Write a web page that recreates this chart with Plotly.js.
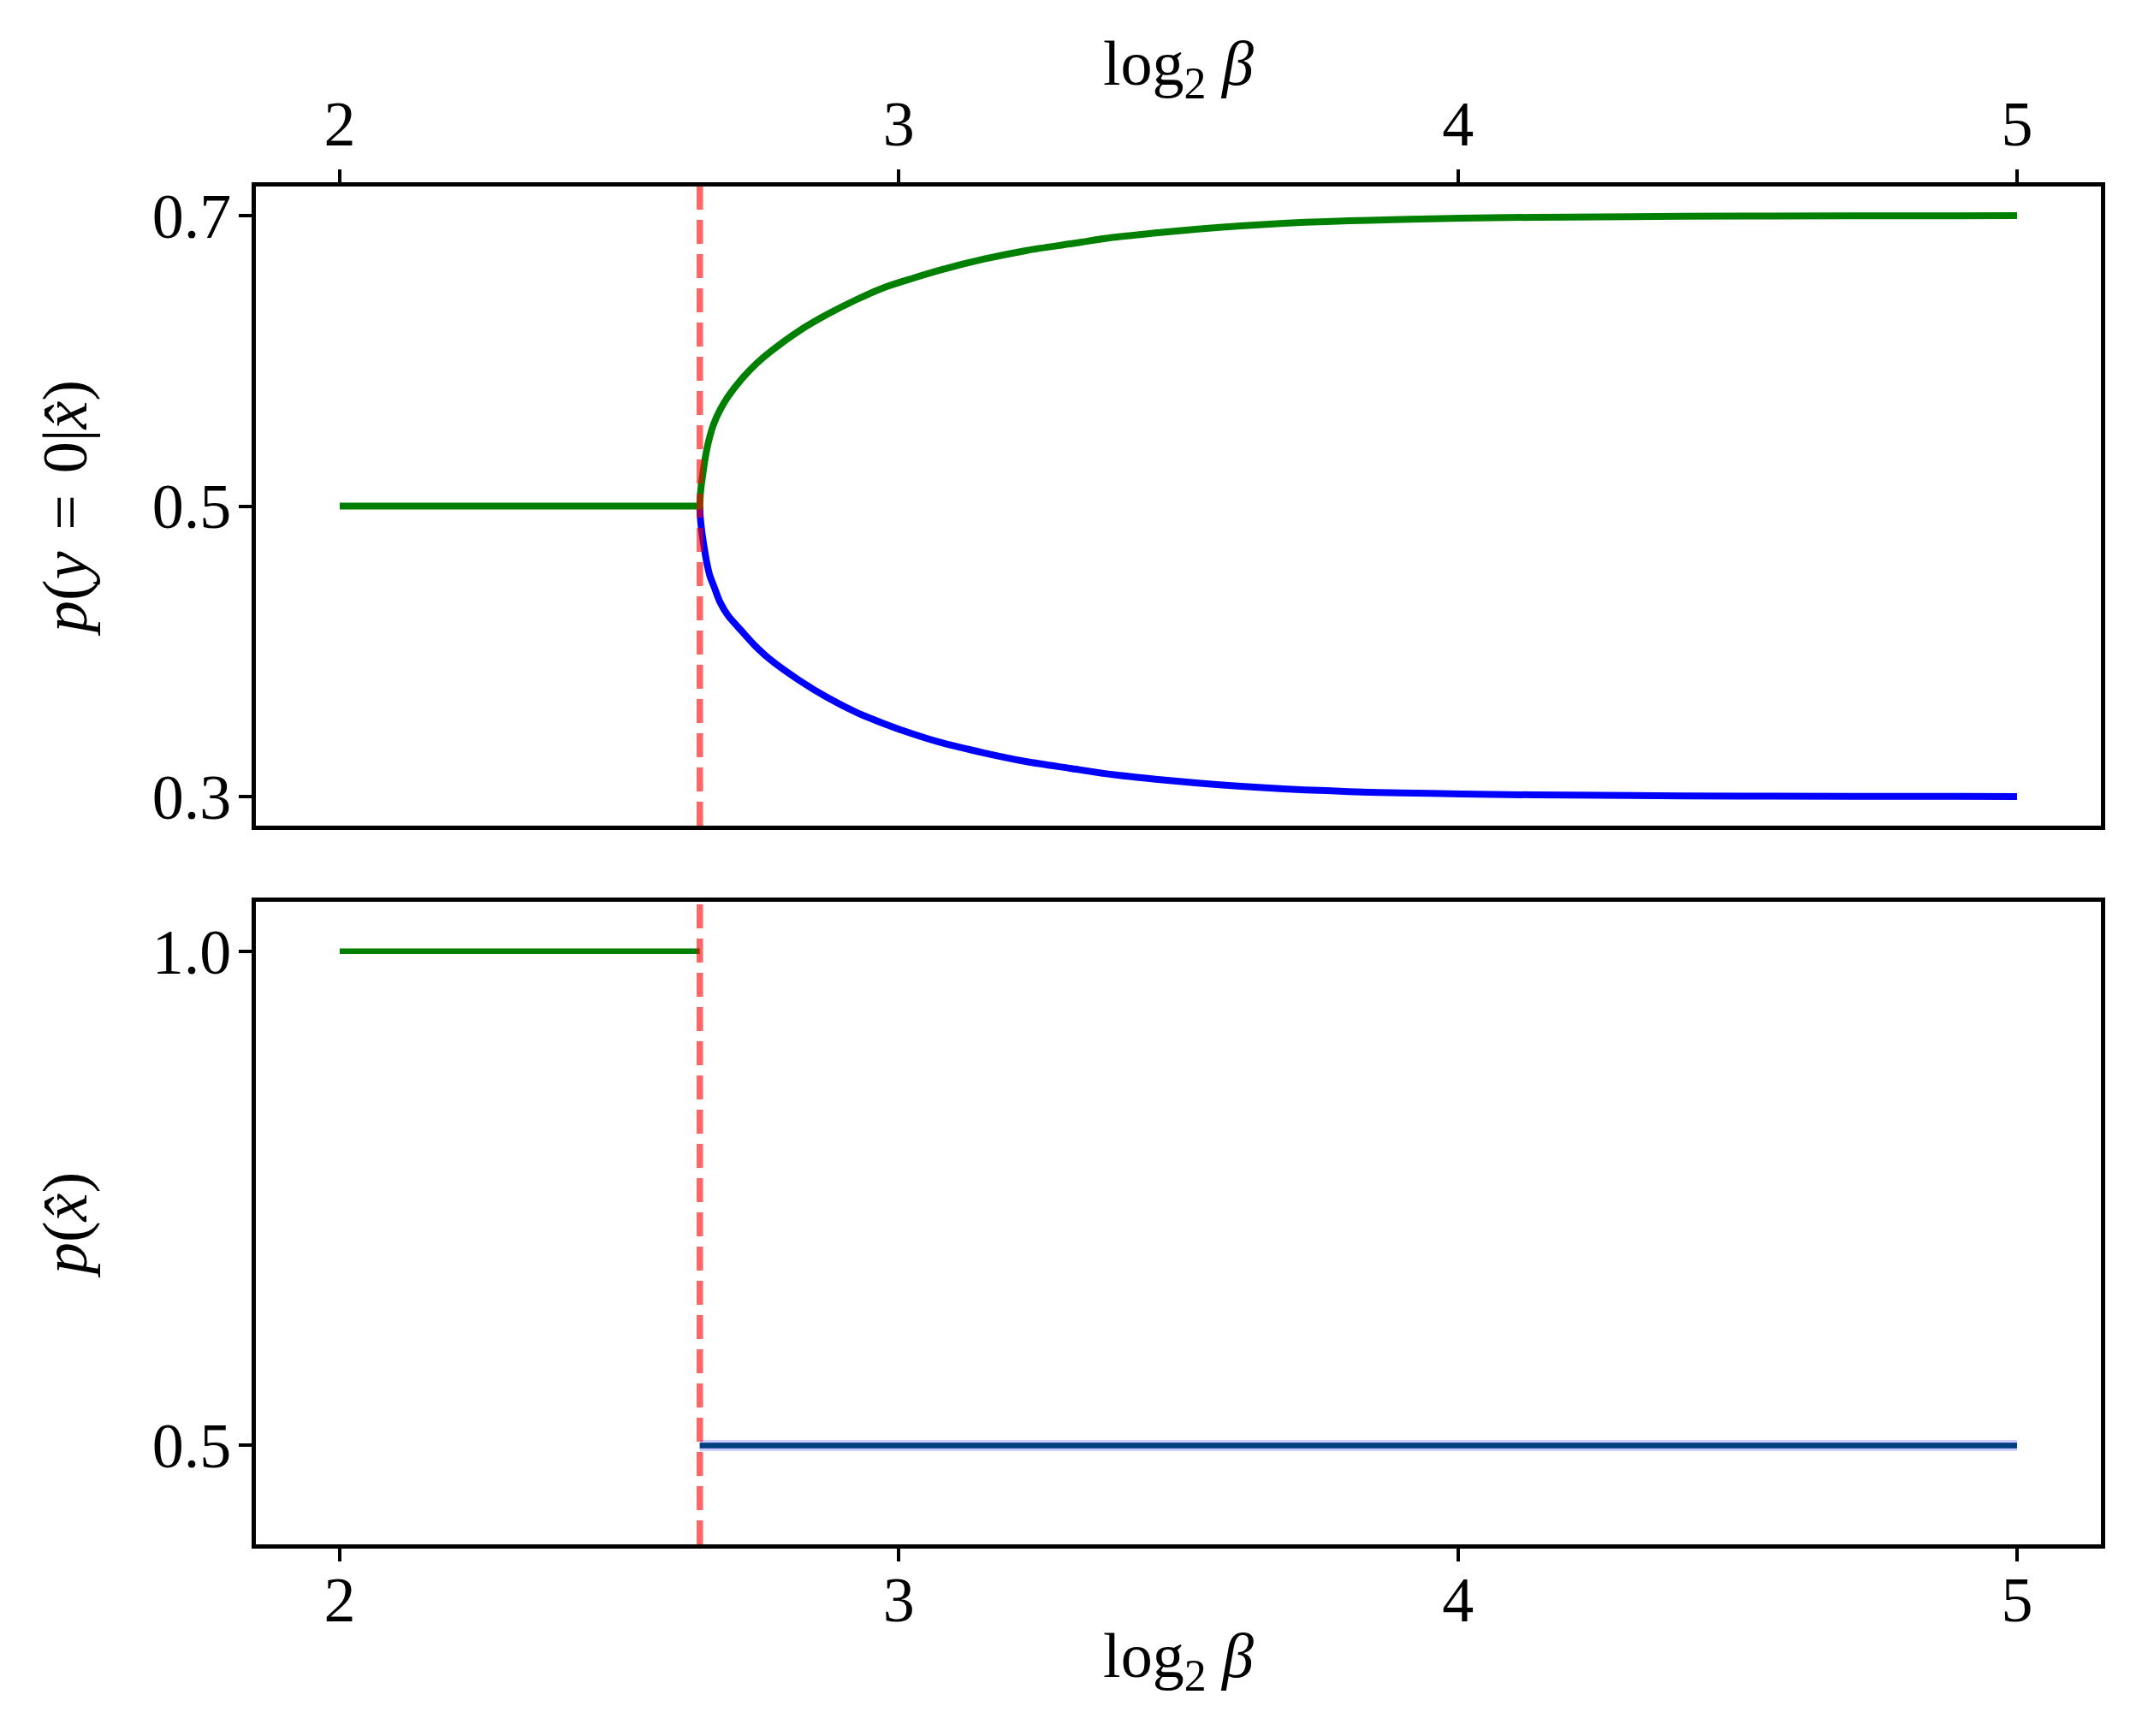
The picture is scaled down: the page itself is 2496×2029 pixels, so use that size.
<!DOCTYPE html>
<html>
<head>
<meta charset="utf-8">
<script src="https://cdn.plot.ly/plotly-3.0.1.min.js"></script>
<style>html,body{margin:0;padding:0;background:#fff;}#chart{width:2496px;height:2029px;}</style>
</head>
<body>
<div id="chart"></div>
<script>
// ---- data ----
const log2BetaCritical = 2.644;
const xTitle = 'log<sub>2</sub> <i>β</i>';
const xTicks = [2, 3, 4, 5];
const xTickText = ['2', '3', '4', '5'];
const topYTicks = [0.3, 0.5, 0.7];
const topYTickText = ['0.3', '0.5', '0.7'];
const bottomYTicks = [0.5, 1.0];
const bottomYTickText = ['0.5', '1.0'];

// before the split: one cluster
const xBeforeSplit = [2.0, 2.644];
const pCondBeforeSplit = [0.5, 0.5];
const pClusterBeforeSplit = [1.0, 1.0];

// after the split: two branches
const xBranch = [2.644, 2.6445, 2.6452, 2.6465, 2.6483, 2.652, 2.656, 2.662, 2.669, 2.680, 2.694, 2.720, 2.745, 2.771, 2.822, 2.873, 2.924, 2.975, 3.026, 3.077, 3.153, 3.229, 3.306, 3.382, 3.459, 3.535, 3.612, 3.688, 3.765, 3.841, 3.950, 4.060, 4.200, 4.400, 4.700, 5.000];
const pCondGreen = [0.500, 0.505, 0.509, 0.514, 0.519, 0.529, 0.538, 0.548, 0.5566, 0.566, 0.5751, 0.588, 0.598, 0.6065, 0.6207, 0.6322, 0.6421, 0.6507, 0.657, 0.6628, 0.6701, 0.676, 0.6805, 0.6849, 0.688, 0.6907, 0.6929, 0.6947, 0.6959, 0.6968, 0.6978, 0.6985, 0.6990, 0.6995, 0.6998, 0.6999];
const pCondBlue = [0.500, 0.495, 0.491, 0.486, 0.4805, 0.471, 0.462, 0.452, 0.445, 0.434, 0.4249, 0.4135, 0.403, 0.394, 0.380, 0.368, 0.358, 0.350, 0.343, 0.337, 0.330, 0.324, 0.3195, 0.3152, 0.312, 0.3093, 0.3071, 0.3053, 0.3041, 0.3030, 0.3022, 0.3015, 0.3010, 0.3005, 0.3002, 0.3001];

const xAfterSplit = [2.644, 5.0];
const pClusterBlue = [0.5, 0.5];
const pClusterGreen = [0.5, 0.5];

// ---- styles ----
const GREEN = '#008000';
const BLUE = '#0000ff';
const FONT = 'Liberation Serif, Times New Roman, serif';
const FS = 74;
const SP = '\u2004';

const traces = [
  // top panel
  {x: xBranch, y: pCondBlue, xaxis: 'x', yaxis: 'y', mode: 'lines', line: {color: BLUE, width: 8, shape: 'spline', smoothing: 0.8}},
  {x: xBeforeSplit.concat(xBranch), y: pCondBeforeSplit.concat(pCondGreen), xaxis: 'x', yaxis: 'y', mode: 'lines', line: {color: GREEN, width: 8, shape: 'spline', smoothing: 0.8}},
  // bottom panel
  {x: xAfterSplit, y: pClusterBlue, xaxis: 'x2', yaxis: 'y2', mode: 'lines', line: {color: 'rgba(0,0,255,0.2)', width: 13}},
  {x: xAfterSplit, y: pClusterBlue, xaxis: 'x2', yaxis: 'y2', mode: 'lines', line: {color: BLUE, width: 6.5}},
  {x: xAfterSplit, y: pClusterGreen, xaxis: 'x2', yaxis: 'y2', mode: 'lines', line: {color: 'rgba(0,128,0,0.5)', width: 6.5}},
  {x: xBeforeSplit, y: pClusterBeforeSplit, xaxis: 'x2', yaxis: 'y2', mode: 'lines', line: {color: GREEN, width: 6.5}}
];

const axisCommon = {
  showgrid: false, zeroline: false, showline: true, mirror: true,
  linecolor: '#000', linewidth: 5,
  ticks: 'outside', ticklen: 15, tickwidth: 4, tickcolor: '#000',
  tickfont: {family: FONT, size: FS, color: '#000'}
};
const titleFont = {family: FONT, size: FS, color: '#000'};

const layout = {
  width: 2496, height: 2029,
  paper_bgcolor: '#fff', plot_bgcolor: '#fff',
  showlegend: false,
  margin: {l: 299, r: 41, t: 218, b: 224},
  font: {family: FONT, color: '#000'},
  xaxis: Object.assign({}, axisCommon, {
    anchor: 'y', side: 'top', range: [1.85, 5.15], tickvals: xTicks, ticktext: xTickText,
    ticklabelstandoff: -2
  }),
  xaxis2: Object.assign({}, axisCommon, {
    anchor: 'y2', side: 'bottom', range: [1.85, 5.15], tickvals: xTicks, ticktext: xTickText,
    ticklabelstandoff: -19,
    title: {text: xTitle, font: titleFont, standoff: 0}
  }),
  yaxis: Object.assign({}, axisCommon, {
    domain: [0.5293, 1], range: [0.28, 0.72], tickvals: topYTicks, ticktext: topYTickText,
    ticklabelstandoff: -6,
    title: {text: '<i>p</i>(<i>y</i>' + SP + '=' + SP + '0|<i>x̂</i>)', font: titleFont, standoff: 53}
  }),
  yaxis2: Object.assign({}, axisCommon, {
    domain: [0, 0.4732], range: [0.4, 1.05], tickvals: bottomYTicks, ticktext: bottomYTickText,
    ticklabelstandoff: -6,
    title: {text: '<i>p</i>(<i>x̂</i>)', font: titleFont, standoff: 53}
  }),
  annotations: [
    {text: xTitle, xref: 'x domain', yref: 'paper', x: 0.5, y: 1.087, xanchor: 'center', yanchor: 'middle',
     showarrow: false, font: titleFont}
  ],
  shapes: [
    {type: 'line', xref: 'x', yref: 'y domain', x0: log2BetaCritical, x1: log2BetaCritical, y0: 0, y1: 1,
     line: {color: 'rgba(255,0,0,0.6)', width: 7.5, dash: '28px,12px'}, layer: 'above'},
    {type: 'line', xref: 'x2', yref: 'y2 domain', x0: log2BetaCritical, x1: log2BetaCritical, y0: 0, y1: 1,
     line: {color: 'rgba(255,0,0,0.6)', width: 7.5, dash: '28px,12px'}, layer: 'above'}
  ]
};

Plotly.newPlot('chart', traces, layout, {displayModeBar: false, staticPlot: true});
</script>
</body>
</html>
